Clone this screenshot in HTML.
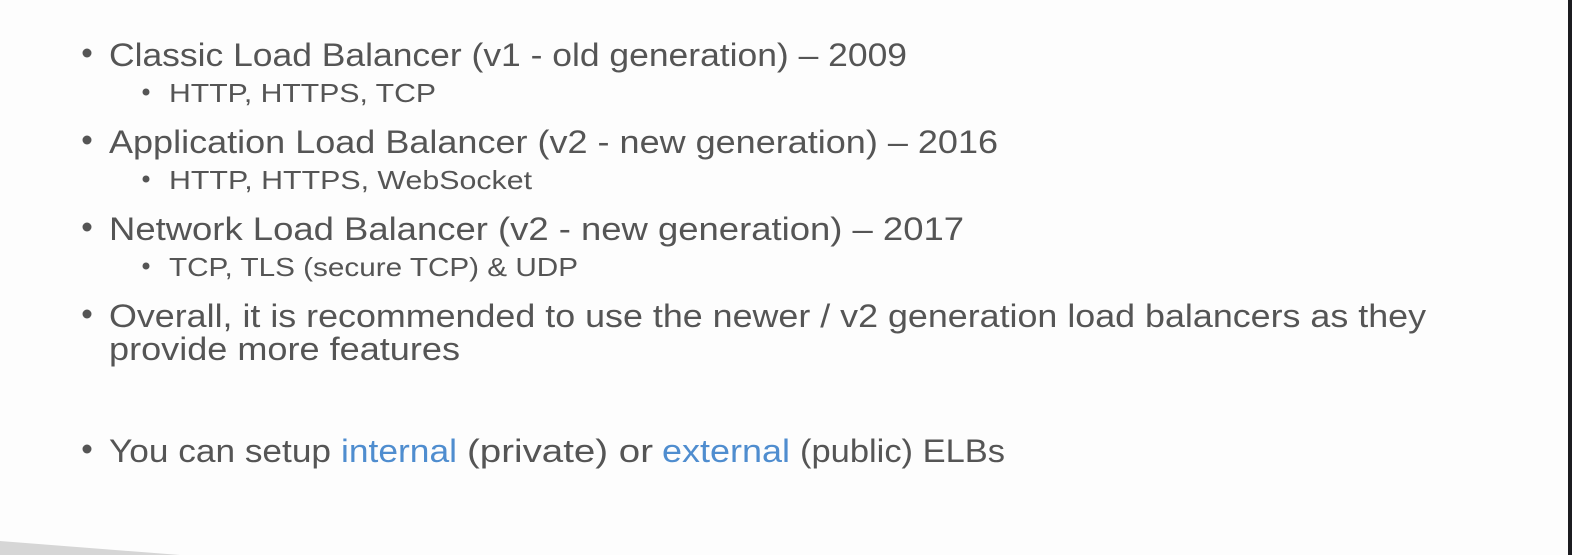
<!DOCTYPE html>
<html><head><meta charset="utf-8"><style>
html,body{margin:0;padding:0;background:#fdfdfd;width:1572px;height:555px;overflow:hidden}
svg{display:block}
text{font-family:"Liberation Sans",sans-serif;fill:#555}
.m{font-size:32px}
.s{font-size:26px}
.b{fill:#4f8dcf}
</style></head><body>
<svg width="1572" height="555" viewBox="0 0 1572 555" xmlns="http://www.w3.org/2000/svg">
<rect width="1572" height="555" fill="#fdfdfd"/>
<rect x="1568" y="0" width="4" height="555" fill="#1c1c20"/>
<polygon points="0,541 180,555 0,555" fill="#d6d6d6"/>
<g fill="#555">
<circle cx="87" cy="53" r="4.5"/><circle cx="146" cy="92" r="3.5"/>
<circle cx="87" cy="140" r="4.5"/><circle cx="146" cy="179" r="3.5"/>
<circle cx="87" cy="227" r="4.5"/><circle cx="146" cy="266" r="3.5"/>
<circle cx="87" cy="314" r="4.5"/>
<circle cx="87" cy="449" r="4.5"/>
</g>
<text class="m" x="109" y="66" textLength="798" lengthAdjust="spacingAndGlyphs">Classic Load Balancer (v1 - old generation) – 2009</text>
<text class="s" x="169" y="102" textLength="267" lengthAdjust="spacingAndGlyphs">HTTP, HTTPS, TCP</text>
<text class="m" x="109" y="153" textLength="889" lengthAdjust="spacingAndGlyphs">Application Load Balancer (v2 - new generation) – 2016</text>
<text class="s" x="169" y="189" textLength="363" lengthAdjust="spacingAndGlyphs">HTTP, HTTPS, WebSocket</text>
<text class="m" x="109" y="240" textLength="855" lengthAdjust="spacingAndGlyphs">Network Load Balancer (v2 - new generation) – 2017</text>
<text class="s" x="169" y="276" textLength="409" lengthAdjust="spacingAndGlyphs">TCP, TLS (secure TCP) &amp; UDP</text>
<text class="m" x="109" y="327" textLength="1317" lengthAdjust="spacingAndGlyphs">Overall, it is recommended to use the newer / v2 generation load balancers as they</text>
<text class="m" x="109" y="360" textLength="351" lengthAdjust="spacingAndGlyphs">provide more features</text>
<text class="m" x="109" y="462" textLength="222" lengthAdjust="spacingAndGlyphs">You can setup</text>
<text class="m b" x="341" y="462" textLength="116" lengthAdjust="spacingAndGlyphs">internal</text>
<text class="m" x="467" y="462" textLength="186" lengthAdjust="spacingAndGlyphs">(private) or</text>
<text class="m b" x="662" y="462" textLength="128" lengthAdjust="spacingAndGlyphs">external</text>
<text class="m" x="800" y="462" textLength="205" lengthAdjust="spacingAndGlyphs">(public) ELBs</text>
</svg>
</body></html>
